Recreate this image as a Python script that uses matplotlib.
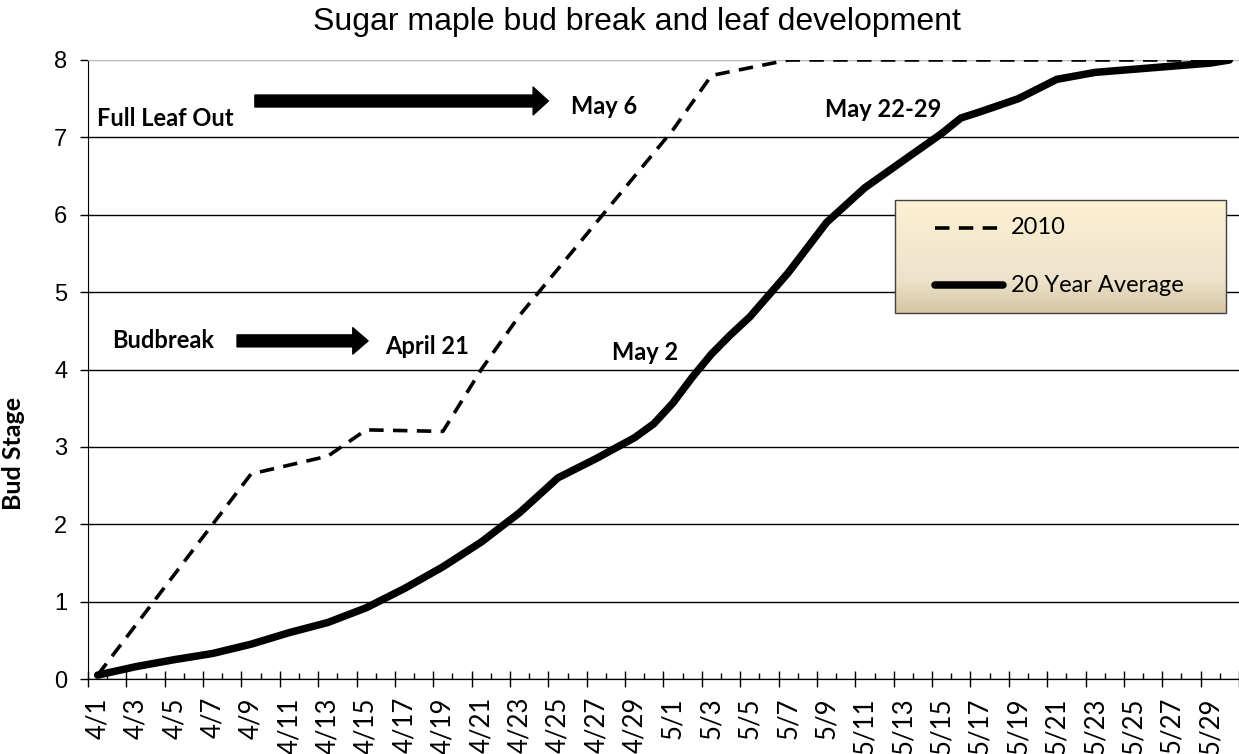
import numpy as np
import matplotlib.pyplot as plt
from matplotlib.colors import LinearSegmentedColormap
from matplotlib.patches import Rectangle
from matplotlib.lines import Line2D

# === DATA ===
# day index: 0 = 4/1 ... 29 = 4/30, 30 = 5/1 ... 59 = 5/30
tick_labels = ['4/1', '4/3', '4/5', '4/7', '4/9', '4/11', '4/13', '4/15', '4/17', '4/19',
               '4/21', '4/23', '4/25', '4/27', '4/29', '5/1', '5/3', '5/5', '5/7', '5/9',
               '5/11', '5/13', '5/15', '5/17', '5/19', '5/21', '5/23', '5/25', '5/27', '5/29']
tick_pos = [0, 2, 4, 6, 8, 10, 12, 14, 16, 18, 20, 22, 24, 26, 28,
            30, 32, 34, 36, 38, 40, 42, 44, 46, 48, 50, 52, 54, 56, 58]

days_2010 = [0, 8, 12, 14, 18, 20, 22, 24, 26, 28, 30, 32, 34, 36, 59]
stage_2010 = [0.05, 2.65, 2.88, 3.22, 3.2, 4.0, 4.7, 5.3, 5.9, 6.5, 7.1, 7.8, 7.9, 8.0, 8.0]

days_avg = [0, 2, 4, 6, 8, 10, 12, 14, 16, 18, 20, 22, 24, 26, 28, 29, 30, 31, 32, 33,
            34, 36, 38, 40, 42, 44, 45, 46, 48, 50, 52, 54, 56, 58, 59]
stage_avg = [0.05, 0.16, 0.25, 0.33, 0.45, 0.6, 0.73, 0.92, 1.17, 1.45, 1.77, 2.15, 2.6,
             2.85, 3.12, 3.3, 3.57, 3.9, 4.2, 4.45, 4.68, 5.25, 5.9, 6.35, 6.7, 7.05, 7.25,
             7.33, 7.5, 7.75, 7.84, 7.88, 7.92, 7.96, 8.0]

W, H = 1239, 754
fig = plt.figure(figsize=(W / 100, H / 100), dpi=100)
ax = fig.add_axes([88 / W, 1 - 679 / H, 1151 / W, 619 / H])

dash = (4.0, 2.6)
ax.plot(days_2010, stage_2010, color='black', lw=2.6, dashes=dash, zorder=3)
ax.plot(days_avg, stage_avg, color='black', lw=5.4, solid_joinstyle='round',
        solid_capstyle='round', zorder=4)

ax.set_xlim(-0.5, 59.5)
ax.set_ylim(0, 8)

# y axis
ax.set_yticks(range(0, 9))
ax.tick_params(axis='y', direction='out', length=6, width=1, pad=9,
               labelsize=17, labelfontfamily='Liberation Sans')
ax.yaxis.grid(True, color='black', lw=1)
ax.set_axisbelow(True)
ax.get_ygridlines()[-1].set_color('#bbbbbb')

# x axis: labels at category centres, marks between categories
ax.set_xticks(tick_pos)
ax.set_xticklabels(tick_labels, rotation=90, fontfamily='Lato', fontsize=18.5, va='top')
ax.tick_params(axis='x', which='major', length=0, pad=13)
ax.set_xticks(np.arange(0.5, 59, 2), minor=True)
ax.tick_params(axis='x', which='minor', direction='in', length=4.5, width=1)
sec = ax.secondary_xaxis('bottom')
sec.set_xticks(np.arange(-0.5, 60, 2))
sec.tick_params(direction='inout', length=11, width=1, labelbottom=False)

ax.spines['right'].set_visible(False)
ax.spines['top'].set_color('#bbbbbb')

ax.set_ylabel('Bud Stage', fontfamily='Lato', fontweight='bold', fontsize=18)
ax.yaxis.set_label_coords(-(88 - 25) / 1151, 0.365)

fig.text(637 / W, 1 - 22 / H, 'Sugar maple bud break and leaf development',
         ha='center', va='center', fontsize=23, fontfamily='Liberation Sans')

# annotations
bold = dict(fontfamily='Lato', fontweight='bold', fontsize=17, va='center', ha='left')
ax.text(-0.03, 7.25, 'Full Leaf Out', **bold)
ax.text(24.7, 7.4, 'May 6', **bold)
ax.text(0.75, 4.38, 'Budbreak', **bold)
ax.text(15.0, 4.3, 'April 21', **bold)
ax.text(26.8, 4.22, 'May 2', **bold)
ax.text(37.9, 7.36, 'May 22-29', **bold)

arrow = dict(arrowstyle='simple,head_length=1.1,head_width=2.0,tail_width=0.86',
             color='black', shrinkA=0, shrinkB=0, mutation_scale=10)
ax.annotate('', xy=(23.5, 7.47), xytext=(8.2, 7.47), arrowprops=arrow)
arrow2 = dict(arrowstyle='simple,head_length=1.1,head_width=1.9,tail_width=0.86',
              color='black', shrinkA=0, shrinkB=0, mutation_scale=10)
ax.annotate('', xy=(14.1, 4.37), xytext=(7.27, 4.37), arrowprops=arrow2)

# legend box with gradient
x0, x1 = (895 - 88) / 1151, (1226 - 88) / 1151
y0, y1 = (679 - 313) / 619, (679 - 200) / 619
cmap = LinearSegmentedColormap.from_list('tan', [(0, '#d6c5a2'), (0.3, '#ede3cc'),
                                                 (1, '#fdf0d3')])
grad = np.linspace(0, 1, 100).reshape(-1, 1)
ax.imshow(grad, cmap=cmap, aspect='auto', origin='lower', extent=(x0, x1, y0, y1),
          transform=ax.transAxes, zorder=5)
ax.add_patch(Rectangle((x0, y0), x1 - x0, y1 - y0, transform=ax.transAxes,
                       fill=False, edgecolor='#404040', lw=1, zorder=6))
lx0, lx1 = (935 - 88) / 1151, (1003 - 88) / 1151
ly1, ly2 = (679 - 228) / 619, (679 - 285) / 619
ax.add_line(Line2D([lx0, lx1], [ly1, ly1], transform=ax.transAxes, color='black',
                   lw=2.6, dashes=dash, zorder=7))
ax.add_line(Line2D([lx0, lx1], [ly2, ly2], transform=ax.transAxes, color='black',
                   lw=5.4, solid_capstyle='round', zorder=7))
tx = (1011 - 88) / 1151
ax.text(tx, ly1, '2010', transform=ax.transAxes, fontfamily='Lato', fontsize=17,
        va='center', ha='left', zorder=7)
ax.text(tx, ly2, '20 Year Average', transform=ax.transAxes, fontfamily='Lato',
        fontsize=17, va='center', ha='left', zorder=7)

ax.set_xlim(-0.5, 59.5)
ax.set_ylim(0, 8)

fig.savefig('out.png', dpi=100)
